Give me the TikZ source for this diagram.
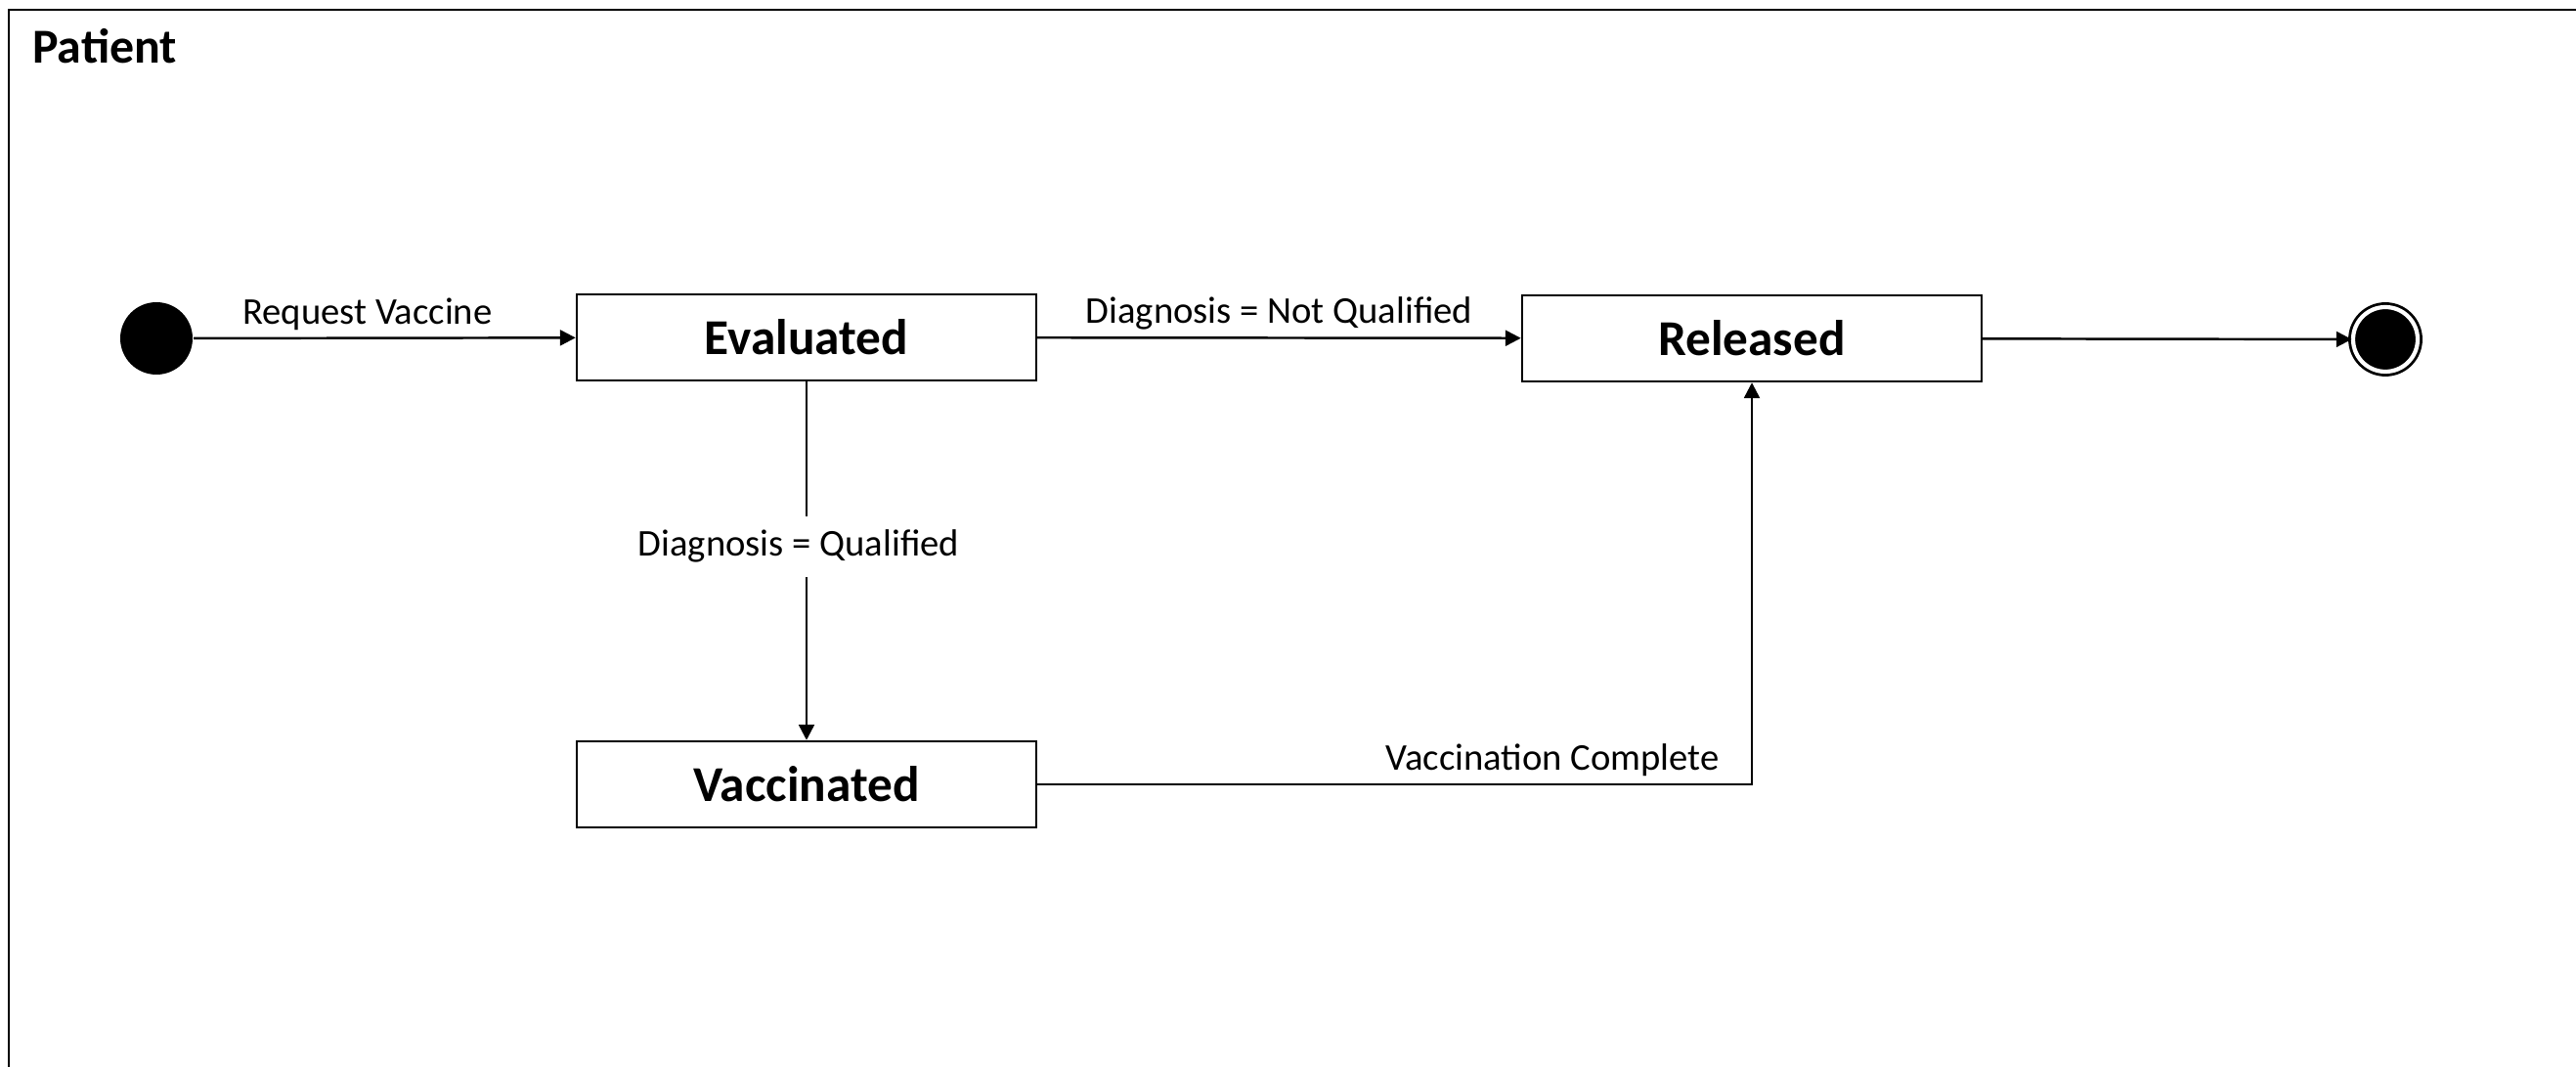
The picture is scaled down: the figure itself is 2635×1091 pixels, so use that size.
\documentclass[tikz,border=0pt]{standalone}
\usepackage{fontspec}
\setmainfont{Carlito}
\usetikzlibrary{arrows.meta}
\begin{document}
\begin{tikzpicture}%
[x=0.1mm,y=-0.1mm,line width=0.7pt,>={Triangle[length=4.5pt,width=4.5pt]},%
start/.style={fill, circle, inner sep=0pt, minimum size=7.4mm},%
stop/.style={fill, draw, circle, inner sep=0pt, minimum size=6.6mm, line width=0.8pt, double=white, double distance=1.2pt},%
state/.style={draw, inner sep=0pt, minimum width=47mm, minimum height=8.8mm, font=\fontsize{14.6}{17}\selectfont\bfseries},%
trans/.style={font=\fontsize{11}{13}\selectfont, inner sep=2pt}]
\useasboundingbox (0,0) rectangle (2635,1091);
\clip (0,0) rectangle (2635,1091);
\draw (9,10) rectangle (2700,1200);
\node[anchor=base west, inner sep=0pt, font=\fontsize{14.2}{17}\selectfont\bfseries] (title) at (32,65) {Patient};
% states
\node[start] (init) at (160,346) {};
\node[state] (eval) at (825,345) {Evaluated};
\node[state] (rel) at (1792,346) {Released};
\node[state] (vacc) at (825,802) {Vaccinated};
\node[stop] (end) at (2440,347) {};
% transitions
\draw[->] (init) -- (eval) node[trans, pos=0.455, above] {Request Vaccine};
\draw[->] (eval) -- (rel) node[trans, midway, above] {Diagnosis = Not Qualified};
\draw[->] (eval) -- (vacc) node[trans, pos=0.46, xshift=-0.8mm, fill=white, inner ysep=4pt] {Diagnosis = Qualified};
\draw[->] (vacc.east) -| (rel.south) node[trans, pos=0.5, anchor=south east, xshift=-2.5mm] {Vaccination Complete};
\draw[->] (rel) -- (end);
\end{tikzpicture}
\end{document}
